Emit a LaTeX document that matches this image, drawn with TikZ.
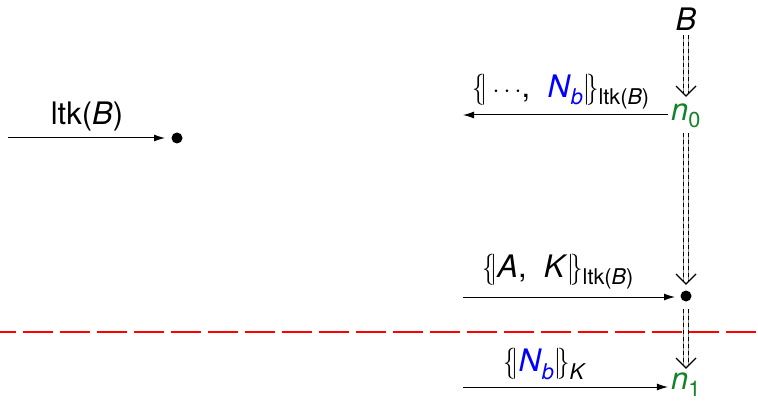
\documentclass[tikz,border=0pt]{standalone}
\usepackage{fontspec}
\setmainfont{TeX Gyre Heros}
\usetikzlibrary{arrows.meta}
\definecolor{dgreen}{RGB}{20,130,40}
\newcommand{\mbl}{\scalebox{1}[1.25]{$\{\!|$}}
\newcommand{\mbr}{\scalebox{1}[1.25]{$|\!\}$}}
\newcommand{\mset}[1]{\mbl#1\mbr}
\newcommand{\sbs}[1]{\textsubscript{#1}}
\tikzset{
  x=1pt, y=1pt,
  lbl/.style={inner sep=2pt, font=\fontsize{31}{35}\selectfont},
  dot/.style={circle, fill=black, minimum size=11pt, inner sep=0pt},
  msg/.style={line width=1pt, -{Latex[length=11pt,width=7pt]}},
  dblbase/.style={double=white, double distance=4pt, line width=1.2pt, draw=black!45},
  dbldash/.style={double=white, double distance=4pt, line width=1.2pt, draw=black, dash pattern=on 4pt off 3pt},
  chev/.style={line width=1.2pt, line join=miter},
  sep/.style={red, line width=2pt, dash pattern=on 30pt off 7pt, dash phase=14pt}
}
\begin{document}
\begin{tikzpicture}
\useasboundingbox (0,0) rectangle (758,-401);
% separator
\coordinate (s0) at (0,-331.5);
\coordinate (s1) at (758,-331.5);
\draw[sep] (s0) -- (s1);
% right column nodes
\node[lbl] (B) at (686,-19) {\textit{B}};
\node[lbl, text=dgreen, inner sep=3pt] (n0) at (686,-116) {\textit{n}\sbs{0}};
\node[dot] (d1) at (686,-296) {};
\node[lbl, text=dgreen, inner sep=3pt] (n1) at (686,-385) {\textit{n}\sbs{1}};
% double arrows (tips at named coordinates)
\coordinate (b0) at (686,-35);
\coordinate (t0) at (686,-96);
\coordinate (b1) at (686,-133);
\coordinate (t1) at (686,-284);
\coordinate (b2) at (686,-309);
\coordinate (t2) at (686,-368);
\foreach \s/\t in {b0/t0, b1/t1, b2/t2}{
  \draw[dblbase] (\s) -- ([yshift=3pt]\t);
  \draw[dbldash] (\s) -- ([yshift=3pt]\t);
  \draw[chev] ([shift={(-10,10)}]\t) -- (\t) -- ([shift={(10,10)}]\t);
}
% messages
\coordinate (a0) at (463,-115);
\draw[msg] (n0.west |- a0) -- (a0);
\node[lbl] (l0) at (561,-92) {\mset{\,$\cdots$,\ \ \textcolor{blue}{\textit{N}\sbs{\textit{b}}}}\sbs{ltk(\textit{B})}};
\coordinate (a1) at (463,-297);
\draw[msg, shorten >=11pt] (a1) -- (d1.center |- a1);
\node[lbl] (l1) at (558,-272) {\mset{\textit{A},\ \ \textit{K}}\sbs{ltk(\textit{B})}};
\coordinate (a2) at (463,-387);
\draw[msg] (a2) -- (n1.west |- a2);
\node[lbl] (l2) at (545,-364) {\mset{\textcolor{blue}{\textit{N}\sbs{\textit{b}}}}\sbs{\textit{K}}};
% left
\node[dot] (d0) at (177,-138) {};
\coordinate (a3) at (8,-138);
\draw[msg, shorten >=12pt] (a3) -- (d0.center);
\node[lbl] (l3) at (87,-116) {ltk(\textit{B})};
\end{tikzpicture}
\end{document}
